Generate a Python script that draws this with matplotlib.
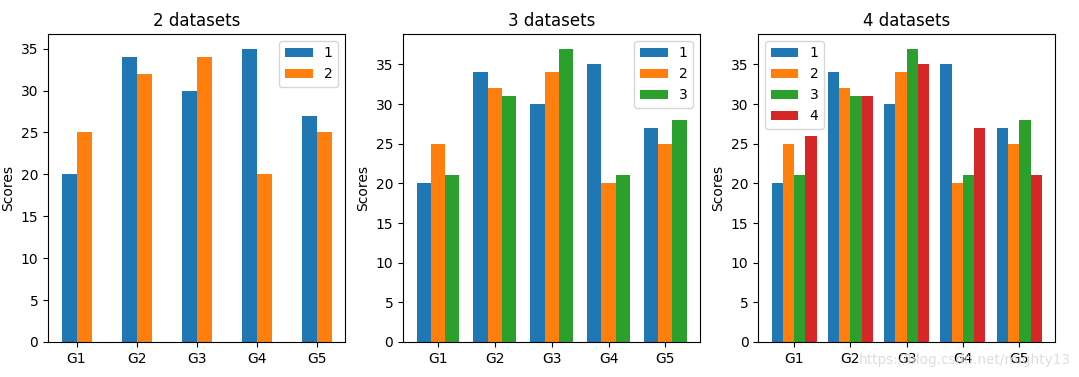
import matplotlib.pyplot as plt
import numpy as np

groups = ["G1", "G2", "G3", "G4", "G5"]
s1 = [20, 34, 30, 35, 27]
s2 = [25, 32, 34, 20, 25]
s3 = [21, 31, 37, 21, 28]
s4 = [26, 31, 35, 27, 21]
labels = ["1", "2", "3", "4"]


def grouped_bars(ax, series, width, title, loc):
    x = np.arange(len(groups))
    n = len(series)
    for i, vals in enumerate(series):
        offset = (i - (n - 1) / 2) * width
        ax.bar(x + offset, vals, width, label=labels[i])
    ax.set_xticks(x)
    ax.set_xticklabels(groups)
    ax.set_ylabel("Scores")
    ax.set_title(title)
    ax.legend(loc=loc)


fig, axes = plt.subplots(1, 3, figsize=(10.79, 3.77), dpi=100)
grouped_bars(axes[0], [s1, s2], 0.25, "2 datasets", "upper right")
grouped_bars(axes[1], [s1, s2, s3], 0.25, "3 datasets", "upper right")
grouped_bars(axes[2], [s1, s2, s3, s4], 0.2, "4 datasets", "upper left")

fig.subplots_adjust(left=0.0445, right=0.978, top=0.91, bottom=0.093, wspace=0.195)
# faint watermark at the lower right, as in the source image
fig.text(0.992, 0.045, "https://blog.csdn.net/mighty13", ha="right", va="center",
         fontsize=9.8, color="#d8d8d8", alpha=0.85)
fig.savefig("out.png")
